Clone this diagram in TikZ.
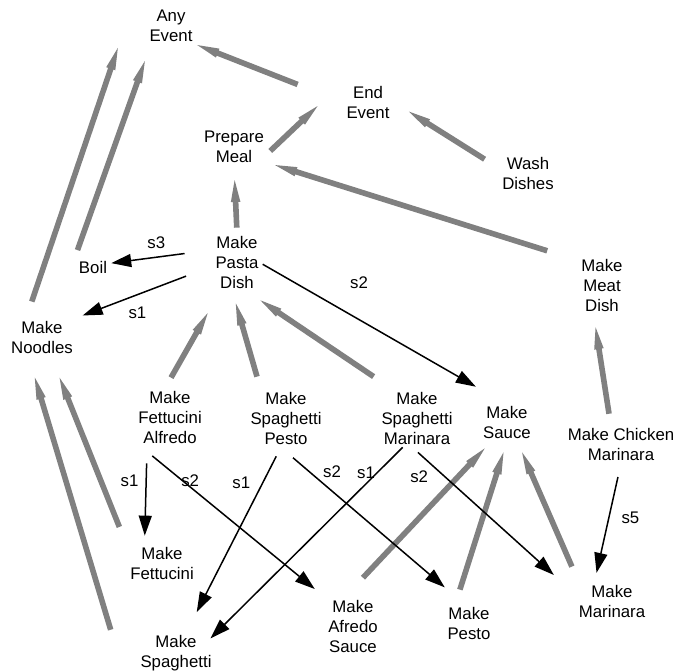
\documentclass[tikz,border=0pt]{standalone}
\usepackage{fontspec}
\setmainfont{Liberation Sans}
\usetikzlibrary{arrows.meta,calc}

\newcommand{\isarrow}[4]{%
	\coordinate (isaT) at ($(#1)!#3!(#2)$);
	\coordinate (isaH) at ($(#2)!#4!(#1)$);
	\coordinate (isaB) at ($(isaH)!22pt!(isaT)$);
	\fill[isa] (isaH) -- ($(isaB)!4.8pt!90:(isaH)$) -- ($(isaB)!2.8pt!90:(isaH)$) -- ($(isaT)!2.8pt!90:(isaH)$)
		-- ($(isaT)!2.8pt!-90:(isaH)$) -- ($(isaB)!2.8pt!-90:(isaH)$) -- ($(isaB)!4.8pt!-90:(isaH)$) -- cycle;
}

\begin{document}
\begin{tikzpicture}[x=1pt,y=-1pt,
		task/.style={align=center,inner xsep=4pt,inner ysep=3pt,font=\fontsize{16.8}{20}\selectfont},
		lbl/.style={inner sep=1pt,font=\fontsize{16.8}{20}\selectfont},
		seq/.style={line width=1.5pt,-{Triangle[length=20pt,width=13pt]}},
		isa/.style={fill=black!50}]
	\useasboundingbox (0,0) rectangle (674,671);

	\node[task,minimum width=104pt] (any) at (171,26) {Any\\Event};
	\node[task] (endev) at (368,102) {End\\Event};
	\node[task] (prep) at (234,147) {Prepare\\Meal};
	\node[task] (wash) at (528,173) {Wash\\Dishes};
	\node[task] (pasta) at (237,262) {Make\\Pasta\\Dish};
	\node[task] (boil) at (93,267) {Boil};
	\node[task] (noodles) at (42,337) {Make\\Noodles};
	\node[task] (meat) at (602,285) {Make\\Meat\\Dish};
	\node[task] (fettalf) at (170,417) {Make\\Fettucini\\Alfredo};
	\node[task] (spagpesto) at (286,418) {Make\\Spaghetti\\Pesto};
	\node[task] (spagmar) at (417,418) {Make\\Spaghetti\\Marinara};
	\node[task] (sauce) at (507,422) {Make\\Sauce};
	\node[task] (chicken) at (621,444) {Make Chicken\\Marinara};
	\node[task] (fett) at (162,563) {Make\\Fettucini};
	\node[task] (afredo) at (353,626) {Make\\Afredo\\Sauce};
	\node[task] (pesto) at (469,623) {Make\\Pesto};
	\node[task] (marinara) at (612,601) {Make\\Marinara};
	\node[task,minimum width=150pt] (spag) at (176,652.7) {Make\\Spaghetti};

	\isarrow{endev.west}{any.-36}{48pt}{0pt}
	\isarrow{prep.-10}{endev.north west}{3pt}{34pt}
	\isarrow{wash.170}{endev.east}{16pt}{18pt}
	\isarrow{meat.135}{prep.-25}{31.5pt}{7.3pt}
	\isarrow{pasta.north}{prep.south}{5pt}{14pt}
	\isarrow{boil.north west}{any.-137}{8pt}{17pt}
	\isarrow{noodles.129}{any.south west}{17pt}{3pt}
	\isarrow{chicken.118}{meat.-106}{11pt}{13pt}
	\isarrow{fettalf.99}{pasta.-120}{11.5pt}{25pt}
	\isarrow{spagpesto.131}{pasta.-99}{12.5pt}{12.5pt}
	\isarrow{spagmar.131}{pasta.-71}{21.5pt}{16pt}
	\isarrow{fett.north west}{noodles.-65}{18pt}{23pt}
	\isarrow{spag.162}{noodles.-125}{2pt}{22pt}
	\isarrow{afredo.105}{sauce.-129}{26pt}{9.6pt}
	\isarrow{pesto.125}{sauce.south}{14.7pt}{11.5pt}
	\isarrow{marinara.150}{sauce.-62}{16.4pt}{12pt}

	\draw[seq,shorten <=27pt] (pasta.155) -- node[lbl,pos=.55,above=7pt] {s3} (boil.12);
	\draw[seq,shorten <=27pt,shorten >=6pt] (pasta.190) -- node[lbl,pos=.55,below=11pt] {s1} (noodles.north east);
	\draw[seq,shorten >=32pt] (pasta.-5) -- node[lbl,pos=.4,above=29pt] {s2} (sauce.100);
	\draw[seq,shorten <=17pt,shorten >=8pt] (fettalf.-128) -- node[lbl,pos=.35,left=6pt] {s1} (fett.132);
	\draw[seq,shorten <=15pt,shorten >=12pt] (fettalf.-135) -- node[lbl,pos=.27,above=-1pt] {s2} (afredo.north west);
	\draw[seq,shorten <=10pt,shorten >=22pt] (spagpesto.-100) -- node[lbl,pos=.19,left=11pt] {s1} (spag.63);
	\draw[seq,shorten <=16pt,shorten >=25pt] (spagpesto.-100) -- node[lbl,pos=.28,above=12pt] {s2} (pesto.105);
	\draw[seq,shorten >=-9.6pt] (spagmar.-116) -- node[lbl,pos=.14,left=0pt] {s1} (spag.27);
	\draw[seq,shorten <=7.5pt,shorten >=28pt] (spagmar.-99) -- node[lbl,pos=.2,left=15pt] {s2} (marinara.169);
	\draw[seq,shorten <=14pt,shorten >=9pt] (chicken.south) -- node[lbl,pos=.46,right=11pt] {s5} (marinara.132);
\end{tikzpicture}
\end{document}
